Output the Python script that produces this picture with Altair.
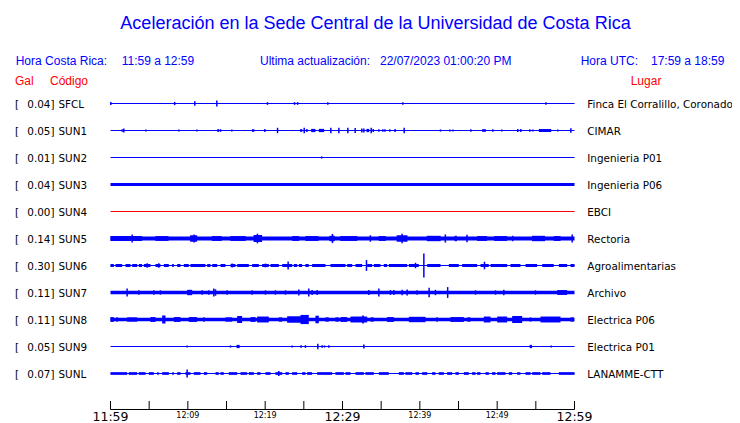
import altair as alt
import pandas as pd

# ---------------- data ----------------
codes = ["SFCL", "SUN1", "SUN2", "SUN3", "SUN4", "SUN5", "SUN6", "SUN7", "SUN8", "SUN9", "SUNL"]
gal = [0.04, 0.05, 0.01, 0.04, 0.00, 0.14, 0.30, 0.11, 0.11, 0.05, 0.07]
places = ["Finca El Corralillo, Coronado", "CIMAR", "Ingenieria P01", "Ingenieria P06", "EBCI",
          "Rectoria", "Agroalimentarias", "Archivo", "Electrica P06", "Electrica P01", "LANAMME-CTT"]
# half-width of the continuous noise band (in trace-spacing units)
noise_half = [0.0185, 0.0185, 0.0185, 0.06, 0.0185, 0.072, 0.0185, 0.065, 0.062, 0.0185, 0.0185]

# bursts: (start minute, end minute, half amplitude)
bursts = {
    "SUN1": [(18.3, 18.6, 0.05), (24.5, 24.8, 0.05), (25.95, 26.5, 0.06), (26.94, 27.63, 0.06),
             (33.1, 33.45, 0.06), (36.7, 36.9, 0.06), (48.06, 48.53, 0.05), (55.39, 56.99, 0.055)],
    "SUN5": [(0.0, 4.1, 0.09), (5.8, 7.5, 0.09), (10.3, 11.2, 0.12), (13.1, 14.4, 0.09), (15.5, 17.5, 0.09),
             (18.5, 19.6, 0.13), (23.5, 24.4, 0.09), (25.2, 26.9, 0.09), (28.3, 29.0, 0.1), (29.7, 31.9, 0.09),
             (34.7, 35.6, 0.09), (37.0, 38.4, 0.12), (40.9, 42.7, 0.1), (44.5, 44.8, 0.1), (47.4, 48.7, 0.09),
             (49.6, 51.3, 0.09), (51.9, 52.1, 0.1), (54.5, 56.2, 0.1), (57.3, 58.2, 0.09)],
    "SUN6": [(0.0, 0.43, 0.055), (0.65, 1.51, 0.055), (1.94, 2.59, 0.055), (2.8, 3.45, 0.055), (3.66, 4.09, 0.055),
             (4.31, 5.17, 0.055), (5.82, 6.46, 0.055), (6.9, 7.54, 0.055), (7.97, 8.19, 0.055), (8.62, 9.05, 0.055),
             (9.48, 10.13, 0.055), (10.34, 12.28, 0.055), (12.5, 12.93, 0.055), (13.15, 13.79, 0.055),
             (14.22, 14.87, 0.055), (15.52, 16.16, 0.055), (16.38, 17.89, 0.055), (18.32, 19.18, 0.055),
             (19.61, 20.47, 0.055), (20.69, 21.77, 0.055), (22.2, 23.5, 0.055), (23.7, 24.14, 0.055),
             (24.35, 24.78, 0.055), (25.2, 25.64, 0.055), (26.07, 27.8, 0.055), (28.44, 30.39, 0.055),
             (30.6, 31.25, 0.055), (31.68, 32.54, 0.055), (33.19, 33.83, 0.055), (34.05, 34.91, 0.055),
             (35.34, 35.77, 0.055), (35.99, 38.36, 0.055), (38.58, 39.87, 0.055), (40.95, 42.67, 0.055),
             (43.75, 45.04, 0.055), (45.47, 47.41, 0.055), (47.84, 48.92, 0.055), (49.14, 51.29, 0.055),
             (51.72, 53.01, 0.055), (53.66, 55.17, 0.055), (55.82, 57.32, 0.055), (57.97, 59.05, 0.055),
             (59.48, 60.0, 0.055)],
    "SUN7": [(9.91, 10.56, 0.1), (57.76, 59.05, 0.09)],
    "SUN8": [(0.0, 0.43, 0.09), (2.15, 3.45, 0.08), (5.17, 5.82, 0.09), (6.68, 7.11, 0.15), (8.19, 9.05, 0.09),
             (10.13, 11.2, 0.09), (14.87, 15.73, 0.08), (16.38, 17.02, 0.13), (18.1, 18.75, 0.09),
             (18.96, 20.47, 0.11), (21.76, 22.2, 0.08), (22.84, 25.2, 0.12), (24.57, 25.64, 0.17),
             (26.5, 26.94, 0.14), (27.8, 28.23, 0.08), (29.09, 29.52, 0.08), (29.74, 30.6, 0.09),
             (31.03, 33.19, 0.11), (32.54, 32.76, 0.15), (33.62, 34.05, 0.08), (35.77, 36.64, 0.09),
             (38.58, 40.73, 0.1), (43.96, 45.69, 0.09), (46.12, 46.55, 0.08), (48.27, 49.14, 0.11),
             (50.0, 51.29, 0.11), (51.94, 53.23, 0.13), (55.6, 58.19, 0.11), (59.48, 59.91, 0.08)],
    "SUN9": [(16.3, 16.7, 0.06), (54.2, 54.5, 0.06)],
    "SUNL": [(0.0, 2.15, 0.05), (2.37, 3.45, 0.05), (3.66, 4.53, 0.05), (4.96, 5.6, 0.05), (6.03, 6.25, 0.05),
             (6.68, 7.54, 0.05), (7.97, 8.19, 0.05), (8.62, 9.05, 0.05), (9.7, 10.34, 0.05), (10.77, 11.64, 0.05),
             (12.07, 12.5, 0.05), (13.58, 14.0, 0.05), (14.22, 14.65, 0.05), (15.3, 16.38, 0.05),
             (16.81, 17.67, 0.05), (17.89, 18.53, 0.05), (18.96, 19.39, 0.05), (20.04, 20.69, 0.05),
             (21.33, 22.2, 0.05), (22.63, 23.06, 0.05), (23.49, 24.14, 0.05), (24.78, 25.21, 0.05),
             (25.43, 26.07, 0.05), (26.72, 28.66, 0.05), (29.09, 30.17, 0.05), (30.39, 31.03, 0.05),
             (31.68, 32.76, 0.05), (32.97, 34.05, 0.05), (34.7, 35.99, 0.05), (37.28, 37.93, 0.05),
             (38.14, 39.01, 0.05), (39.44, 39.87, 0.05), (40.3, 40.95, 0.05), (41.59, 42.02, 0.05),
             (42.45, 43.1, 0.05), (43.53, 44.18, 0.05), (44.61, 45.04, 0.05), (45.69, 46.33, 0.05),
             (46.76, 47.2, 0.05), (47.41, 47.84, 0.05), (48.49, 48.92, 0.05), (49.35, 49.78, 0.05),
             (50.0, 51.07, 0.05), (51.51, 51.94, 0.05), (52.58, 53.01, 0.05), (53.66, 54.31, 0.05),
             (54.52, 55.6, 0.05), (55.82, 56.89, 0.05), (57.97, 60.0, 0.05)],
}

# spikes: (minute, half amplitude)
spikes = {
    "SFCL": [(0.04, 0.06), (8.3, 0.06), (10.9, 0.08), (13.75, 0.11), (20.3, 0.05), (23.8, 0.05),
             (24.2, 0.05), (28.1, 0.05), (37.8, 0.05), (56.3, 0.05)],
    "SUN1": [(1.51, 0.05), (1.72, 0.07), (4.57, 0.04), (8.84, 0.04), (11.17, 0.04), (13.92, 0.06),
             (14.22, 0.05), (15.69, 0.04), (19.96, 0.06), (21.6, 0.1), (25.05, 0.1), (25.4, 0.06),
             (28.49, 0.1), (29.53, 0.1), (30.69, 0.1), (31.64, 0.09), (32.5, 0.07), (32.76, 0.07),
             (33.71, 0.1), (33.97, 0.06), (34.7, 0.05), (35.22, 0.05), (35.48, 0.05), (36.12, 0.05),
             (37.98, 0.1), (42.67, 0.04), (43.88, 0.04), (44.27, 0.04), (46.6, 0.05), (49.44, 0.05),
             (50.6, 0.04), (52.67, 0.06), (53.06, 0.06), (54.22, 0.05), (54.61, 0.04), (57.84, 0.04),
             (59.53, 0.08)],
    "SUN2": [(27.3, 0.04)],
    "SUN5": [(2.8, 0.15), (10.8, 0.15), (19.0, 0.18), (28.7, 0.17), (33.6, 0.12), (37.7, 0.18),
             (43.3, 0.15), (46.1, 0.14), (59.7, 0.15)],
    "SUN6": [(4.74, 0.08), (6.25, 0.08), (9.91, 0.06), (15.73, 0.07), (20.04, 0.07), (22.97, 0.15),
             (33.1, 0.2), (39.44, 0.1), (40.52, 0.44), (48.36, 0.14)],
    "SUN7": [(2.15, 0.15), (3.66, 0.08), (5.6, 0.08), (6.46, 0.08), (11.85, 0.08), (12.71, 0.08),
             (13.36, 0.15), (13.58, 0.12), (15.08, 0.08), (18.32, 0.08), (20.04, 0.08), (21.33, 0.08),
             (22.63, 0.08), (24.35, 0.11), (25.64, 0.15), (26.07, 0.09), (26.72, 0.09), (33.4, 0.09),
             (34.7, 0.15), (36.2, 0.09), (36.64, 0.09), (37.71, 0.1), (38.36, 0.11), (39.65, 0.08),
             (41.2, 0.18), (42.02, 0.1), (43.6, 0.2), (47.2, 0.08), (49.78, 0.08), (50.86, 0.1),
             (54.95, 0.08)],
    "SUN8": [(0.86, 0.08), (12.07, 0.08), (42.24, 0.08), (54.31, 0.08)],
    "SUN9": [(9.91, 0.04), (15.52, 0.04), (23.49, 0.04), (24.65, 0.05), (25.21, 0.05), (26.81, 0.1),
             (27.37, 0.05), (27.67, 0.04), (28.23, 0.05), (32.76, 0.07), (56.98, 0.04)],
    "SUNL": [(9.91, 0.15), (21.76, 0.09)],
}

tick_minutes = [0, 5, 10, 15, 20, 25, 30, 35, 40, 45, 50, 55, 60]
label_minutes = [0, 10, 20, 30, 40, 50, 60]
tick_labels = ["11:59", "12:09", "12:19", "12:29", "12:39", "12:49", "12:59"]
major_labels = [True, False, False, True, False, False, True]

# ---------------- layout ----------------
W, H = 724, 415
X0_PX, X1_PX = 102.5, 566.5          # pixel of 11:59 and 12:59 inside the canvas
PXMIN = (X1_PX - X0_PX) / 60.0
ROW0, ROW_PX = 95.5, 27.0
xscale = alt.Scale(domain=[-X0_PX / PXMIN, (W - X0_PX) / PXMIN], nice=False, zero=False)
yscale = alt.Scale(domain=[-ROW0 / ROW_PX, (H - ROW0) / ROW_PX], reverse=True, nice=False, zero=False)
BLUE, RED = "#0000ff", "#ff0000"
LAB_FONT = "DejaVu Sans"
HDR_FONT = "Liberation Sans"
LAB_SIZE = 10.4

stations = pd.DataFrame({
    "row": list(range(len(codes))),
    "code": codes,
    "gal": gal,
    "place": places,
    "noise": noise_half,
})
stations["gal_label"] = [f"{g:.2f}]" for g in gal]
stations["t0"] = 0.0
stations["t1"] = 60.0
stations["sw"] = stations["noise"] * 2 * ROW_PX   # band thickness in px
stations["col"] = [RED if g == 0 else BLUE for g in gal]

brows = []
for i, c in enumerate(codes):
    for (a, b, h) in bursts.get(c, []):
        brows.append({"row": i, "t0": a, "t1": b, "y0": i - h, "y1": i + h})
bdf = pd.DataFrame(brows)

srows = []
for i, c in enumerate(codes):
    for (t, h) in spikes.get(c, []):
        srows.append({"row": i, "t": t, "y0": i - h, "y1": i + h})
sdf = pd.DataFrame(srows)

X = lambda f: alt.X(f, scale=xscale, axis=None)
Y = lambda f: alt.Y(f, scale=yscale, axis=None)

base = alt.Chart(stations).mark_rule(strokeCap="butt").encode(
    x=X("t0:Q"), x2="t1:Q", y=Y("row:Q"),
    strokeWidth=alt.StrokeWidth("sw:Q", scale=None, legend=None),
    color=alt.Color("col:N", scale=None, legend=None))
burst_layer = alt.Chart(bdf).mark_rect(color=BLUE).encode(
    x=X("t0:Q"), x2="t1:Q", y=Y("y0:Q"), y2="y1:Q")
spike_layer = alt.Chart(sdf).mark_rule(color=BLUE, strokeWidth=1.5).encode(
    x=X("t:Q"), y=Y("y0:Q"), y2="y1:Q")

row_text = dict(font=LAB_FONT, fontSize=LAB_SIZE, baseline="alphabetic", dy=4, color="black")
bracket = alt.Chart(stations).mark_text(text="[", align="left", **row_text).encode(
    x=alt.value(7), y=Y("row:Q"))
gal_txt = alt.Chart(stations).mark_text(align="right", **row_text).encode(
    x=alt.value(46.5), y=Y("row:Q"), text="gal_label:N")
code_txt = alt.Chart(stations).mark_text(align="left", **row_text).encode(
    x=alt.value(50.5), y=Y("row:Q"), text="code:N")
place_txt = alt.Chart(stations).mark_text(align="left", **row_text).encode(
    x=alt.value(579.3), y=Y("row:Q"), text="place:N")

# axis
ticks_df = pd.DataFrame({"m": tick_minutes})
tick_layer = alt.Chart(ticks_df).mark_rule(color="black", strokeWidth=1).encode(
    x=X("m:Q"), y=alt.value(393), y2=alt.value(401.5))
axis_line = alt.Chart(pd.DataFrame({"a": [tick_minutes[0]], "b": [tick_minutes[-1]]})).mark_rule(
    color="black", strokeWidth=1).encode(x=X("a:Q"), x2="b:Q", y=alt.value(401.5))
lab_df = pd.DataFrame({"m": label_minutes, "lab": tick_labels, "major": major_labels})
major_lab = alt.Chart(lab_df[lab_df["major"]]).mark_text(
    font=LAB_FONT, fontSize=12.5, align="center", baseline="alphabetic", color="black").encode(
    x=X("m:Q"), y=alt.value(413), text="lab:N")
minor_lab = alt.Chart(lab_df[~lab_df["major"]]).mark_text(
    font=LAB_FONT, fontSize=8, align="center", baseline="alphabetic", color="black").encode(
    x=X("m:Q"), y=alt.value(410), text="lab:N")

one = pd.DataFrame({"k": [0]})


def label(txt, x, y, size=12, color=BLUE, align="left", font=HDR_FONT):
    return alt.Chart(one).mark_text(text=txt, font=font, fontSize=size, color=color,
                                    align=align, baseline="alphabetic").encode(
        x=alt.value(x), y=alt.value(y))


headers = [
    label("Aceleración en la Sede Central de la Universidad de Costa Rica", 367.5, 21, size=18, align="center"),
    label("Hora Costa Rica:", 7.7, 57),
    label("11:59 a 12:59", 113.7, 57),
    label("Ultima actualización:", 252, 57),
    label("22/07/2023 01:00:20 PM", 372, 57),
    label("Hora UTC:", 572.7, 57),
    label("17:59 a 18:59", 643, 57),
    label("Gal", 7, 77, color=RED),
    label("Código", 42, 77, color=RED),
    label("Lugar", 622.7, 77, color=RED),
]

chart = alt.layer(
    base, burst_layer, spike_layer, bracket, gal_txt, code_txt, place_txt,
    tick_layer, axis_line, major_lab, minor_lab, *headers
).properties(
    width=W, height=H, padding=0, background="white",
    autosize=alt.AutoSizeParams(type="none"),
).configure_view(stroke=None)

chart.save("out.html", embed_options={"renderer": "svg", "actions": False})
